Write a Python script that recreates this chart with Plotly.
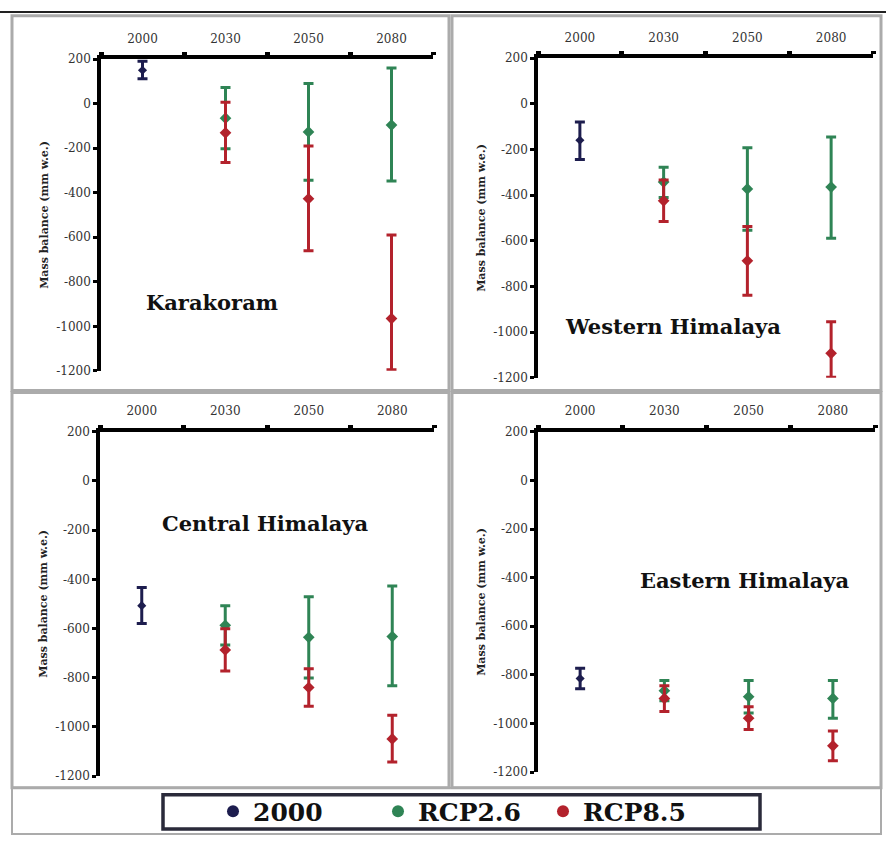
import plotly.graph_objects as go

# Mass balance (mm w.e.) per region: 2000 baseline and projections for 2030/2050/2080
years = ["2000", "2030", "2050", "2080"]
proj_years = ["2030", "2050", "2080"]
regions = ["Karakoram", "Western Himalaya", "Central Himalaya", "Eastern Himalaya"]

y_tick_vals = [200, 0, -200, -400, -600, -800, -1000, -1200]
y_tick_text = ["200", "0", "-200", "-400", "-600", "-800", "-1000", "-1200"]

# baseline 2000: mean, upper and lower bound
base_mean = [150, -160, -507, -815]
base_high = [190, -80, -433, -773]
base_low = [112, -244, -580, -857]

# RCP2.6 (2030, 2050, 2080)
rcp26_karakoram = [-65, -127, -96]
rcp26_karakoram_high = [72, 90, 160]
rcp26_karakoram_low = [-202, -344, -347]
rcp26_western = [-343, -373, -365]
rcp26_western_high = [-278, -192, -145]
rcp26_western_low = [-410, -554, -589]
rcp26_central = [-587, -636, -633]
rcp26_central_high = [-507, -471, -427]
rcp26_central_low = [-667, -801, -833]
rcp26_eastern = [-865, -890, -897]
rcp26_eastern_high = [-823, -823, -823]
rcp26_eastern_low = [-907, -957, -978]

# RCP8.5 (2030, 2050, 2080)
rcp85_karakoram = [-131, -427, -965]
rcp85_karakoram_high = [6, -190, -590]
rcp85_karakoram_low = [-264, -661, -1195]
rcp85_western = [-425, -688, -1093]
rcp85_western_high = [-334, -537, -955]
rcp85_western_low = [-516, -839, -1198]
rcp85_central = [-687, -840, -1049]
rcp85_central_high = [-601, -764, -953]
rcp85_central_low = [-773, -916, -1143]
rcp85_eastern = [-897, -978, -1092]
rcp85_eastern_high = [-845, -931, -1031]
rcp85_eastern_low = [-951, -1025, -1153]

rcp26 = [
    (rcp26_karakoram, rcp26_karakoram_high, rcp26_karakoram_low),
    (rcp26_western, rcp26_western_high, rcp26_western_low),
    (rcp26_central, rcp26_central_high, rcp26_central_low),
    (rcp26_eastern, rcp26_eastern_high, rcp26_eastern_low),
]
rcp85 = [
    (rcp85_karakoram, rcp85_karakoram_high, rcp85_karakoram_low),
    (rcp85_western, rcp85_western_high, rcp85_western_low),
    (rcp85_central, rcp85_central_high, rcp85_central_low),
    (rcp85_eastern, rcp85_eastern_high, rcp85_eastern_low),
]

W, H = 886, 843
SERIF = "DejaVu Serif, Liberation Serif, serif"
C_BASE = "#1d1d4e"
C_26 = "#2f8455"
C_85 = "#b3222c"


def px_x(v):
    return v / W


def px_y(v):
    return 1 - v / H


# plot areas in pixels: (left, right, top, bottom)
areas = [
    (101, 433, 53, 370),
    (538, 873, 52, 377),
    (100, 434, 432, 782),
    (538, 875, 432, 778),
]
# region label centres in pixels
label_pos = [(212, 300), (673, 325), (265, 525), (745, 583)]

fig = go.Figure()


def err(mean, high, low):
    return dict(
        type="data",
        symmetric=False,
        array=[h - m for h, m in zip(high, mean)],
        arrayminus=[m - l for m, l in zip(mean, low)],
        thickness=3,
        width=5,
    )


for i in range(4):
    xa = "x" if i == 0 else f"x{i + 1}"
    ya = "y" if i == 0 else f"y{i + 1}"
    fig.add_trace(go.Scatter(
        x=[years[0]], y=[base_mean[i]], mode="markers", name="2000",
        marker=dict(symbol="diamond", size=7, color=C_BASE),
        error_y=dict(err([base_mean[i]], [base_high[i]], [base_low[i]]), color=C_BASE),
        xaxis=xa, yaxis=ya, showlegend=False, legendgroup="2000",
    ))
    m, hi, lo = rcp26[i]
    fig.add_trace(go.Scatter(
        x=proj_years, y=m, mode="markers", name="RCP2.6",
        marker=dict(symbol="diamond", size=9, color=C_26),
        error_y=dict(err(m, hi, lo), color=C_26),
        xaxis=xa, yaxis=ya, showlegend=False, legendgroup="26",
    ))
    m, hi, lo = rcp85[i]
    fig.add_trace(go.Scatter(
        x=proj_years, y=m, mode="markers", name="RCP8.5",
        marker=dict(symbol="diamond", size=9, color=C_85),
        error_y=dict(err(m, hi, lo), color=C_85),
        xaxis=xa, yaxis=ya, showlegend=False, legendgroup="85",
    ))

# legend keys (small dots, no data of their own)
for name, col, grp in [("2000", C_BASE, "2000"), ("RCP2.6", C_26, "26"), ("RCP8.5", C_85, "85")]:
    fig.add_trace(go.Scatter(
        x=[None], y=[None], mode="markers", name=name,
        marker=dict(symbol="circle", size=6, color=col),
        legendgroup=grp, showlegend=True,
    ))

layout = dict(
    width=W, height=H,
    margin=dict(l=0, r=0, t=0, b=0),
    paper_bgcolor="white",
    plot_bgcolor="white",
    font=dict(family=SERIF, color="#222"),
)

for i, (l, r, t, b) in enumerate(areas):
    kx = "xaxis" if i == 0 else f"xaxis{i + 1}"
    ky = "yaxis" if i == 0 else f"yaxis{i + 1}"
    layout[kx] = dict(
        domain=[px_x(l), px_x(r)],
        anchor="y" if i == 0 else f"y{i + 1}",
        type="category", categoryorder="array", categoryarray=years,
        range=[-0.5, 3.5], side="top",
        showline=True, linewidth=3.5, linecolor="black",
        ticks="outside", tickson="boundaries", ticklen=3, tickwidth=5, tickcolor="black",
        ticklabelstandoff=8,
        showgrid=False, zeroline=False, fixedrange=True,
        tickfont=dict(size=12, family=SERIF, color="#333"),
    )
    layout[ky] = dict(
        domain=[px_y(b), px_y(t)],
        anchor="x" if i == 0 else f"x{i + 1}",
        range=[-1200, 200],
        tickvals=y_tick_vals, ticktext=y_tick_text,
        showline=True, linewidth=3.5, linecolor="black",
        ticks="outside", ticklen=4, tickwidth=3, tickcolor="black",
        showgrid=False, zeroline=False, fixedrange=True,
        tickfont=dict(size=12, family=SERIF, color="#333"),
        title=dict(text="<b>Mass balance (mm w.e.)</b>", standoff=6,
                   font=dict(size=11, family=SERIF, color="#222")),
    )

fig.update_layout(**layout)

# region names inside each panel
for name, (x, y) in zip(regions, label_pos):
    fig.add_annotation(
        x=px_x(x), y=px_y(y), xref="paper", yref="paper",
        xanchor="center", yanchor="middle",
        text=f"<b>{name}</b>", showarrow=False,
        font=dict(size=21, family=SERIF, color="#111"),
    )

# panel frames and legend box
frame = "#ababab"
shapes = [
    dict(type="rect", xref="paper", yref="paper",
         x0=px_x(12), x1=px_x(449), y0=px_y(390), y1=px_y(9),
         line=dict(color=frame, width=3)),
    dict(type="rect", xref="paper", yref="paper",
         x0=px_x(452), x1=px_x(881), y0=px_y(390), y1=px_y(9),
         line=dict(color=frame, width=3)),
    dict(type="rect", xref="paper", yref="paper",
         x0=px_x(12), x1=px_x(449), y0=px_y(794), y1=px_y(392),
         line=dict(color=frame, width=3)),
    dict(type="rect", xref="paper", yref="paper",
         x0=px_x(452), x1=px_x(881), y0=px_y(794), y1=px_y(392),
         line=dict(color=frame, width=3)),
    dict(type="rect", xref="paper", yref="paper",
         x0=px_x(12), x1=px_x(881), y0=px_y(841), y1=px_y(794),
         line=dict(color=frame, width=2)),
    dict(type="line", xref="paper", yref="paper",
         x0=0, x1=1, y0=px_y(5), y1=px_y(5),
         line=dict(color="#222", width=2)),
    dict(type="rect", xref="paper", yref="paper",
         x0=px_x(163), x1=px_x(760), y0=px_y(836), y1=px_y(801),
         line=dict(color="#2a2a3a", width=3.5), fillcolor="rgba(0,0,0,0)"),
]
fig.update_layout(shapes=shapes)

fig.update_layout(legend=dict(
    orientation="h",
    x=px_x(213), xanchor="left",
    y=px_y(818), yanchor="middle",
    bgcolor="rgba(0,0,0,0)", borderwidth=0,
    font=dict(size=25, family=SERIF, color="#111", weight="bold"),
    itemsizing="constant",
    entrywidth=120,
    tracegroupgap=0,
))

fig.write_html("out.html")
